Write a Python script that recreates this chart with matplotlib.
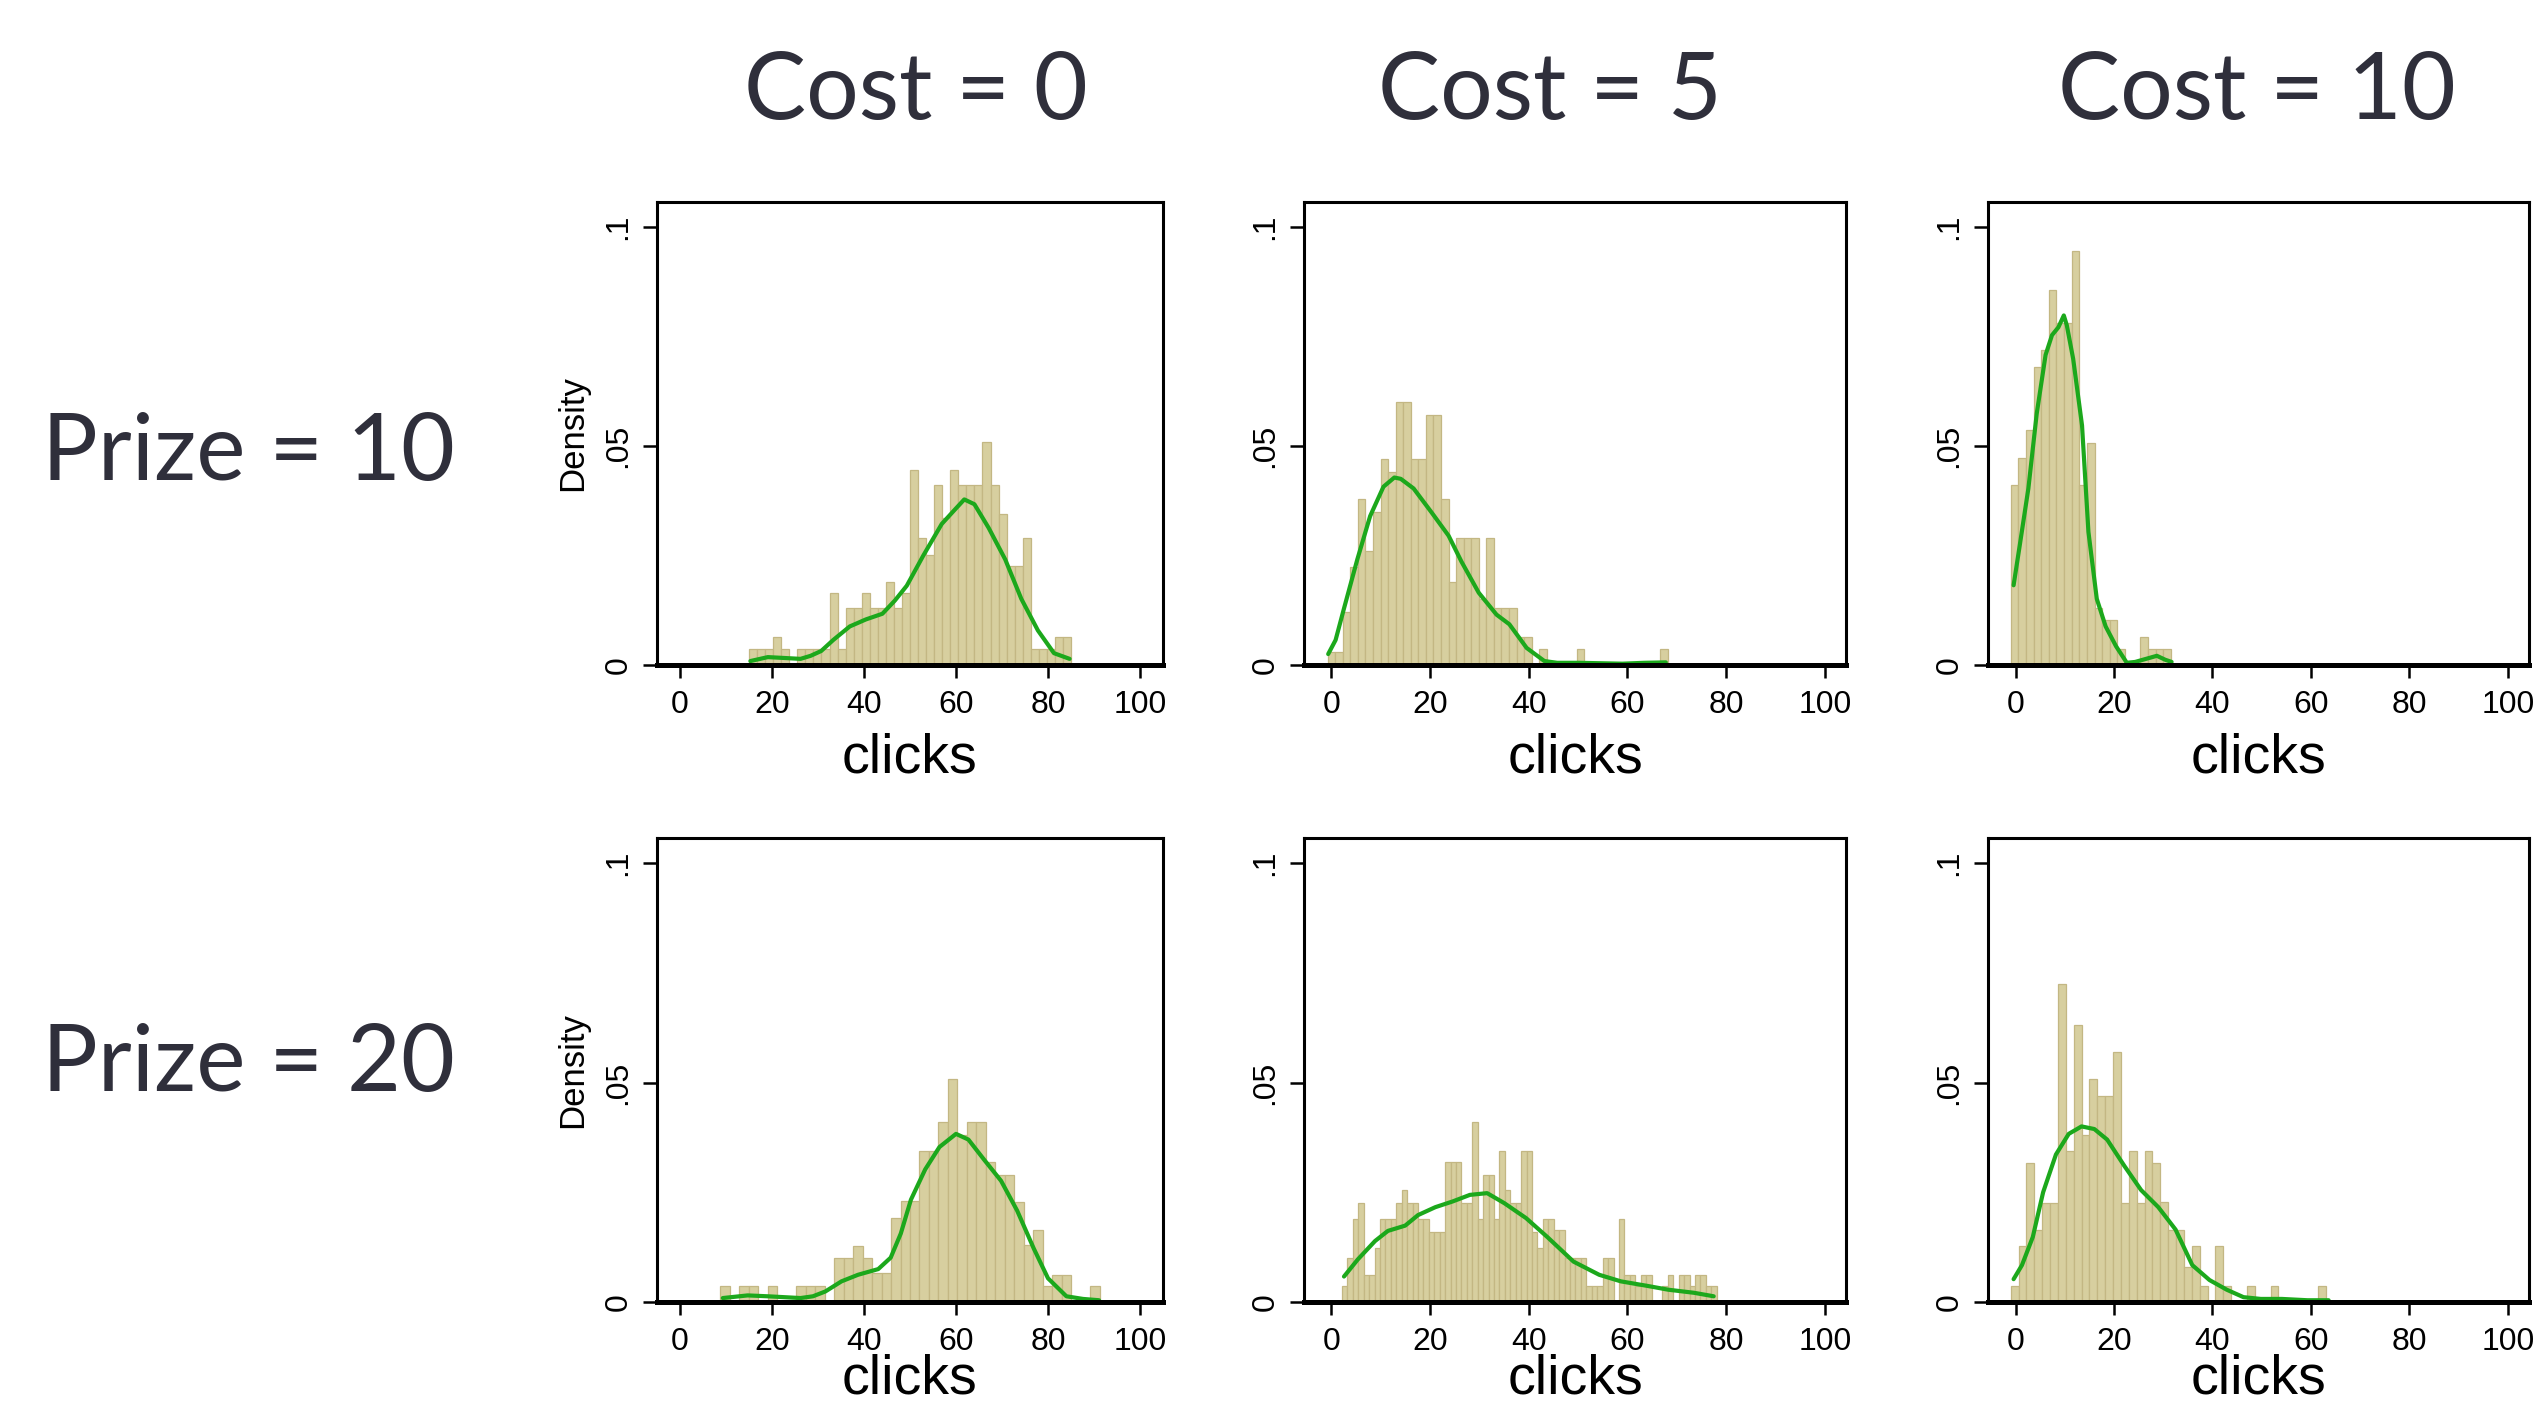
import numpy as np
import matplotlib
matplotlib.use("Agg")
import matplotlib.pyplot as plt

W, H, DPI = 2537, 1410, 100

# ---------------- labels ----------------
cost_labels = ["Cost = 0", "Cost = 5", "Cost = 10"]
prize_labels = ["Prize = 10", "Prize = 20"]
x_ticks = [0, 20, 40, 60, 80, 100]
x_tick_labels = ["0", "20", "40", "60", "80", "100"]
y_ticks = [0, 0.05, 0.1]
y_tick_labels = ["0", ".05", ".1"]
x_label = "clicks"
y_label = "Density"

# ---------------- data (density histograms + kernel density) ----------------
# Prize = 10, Cost = 0
p10c0_start, p10c0_width = 15.0, 1.75
p10c0_heights = [0.0037, 0.0037, 0.0037, 0.0064, 0.0037, 0.0, 0.0037, 0.0037, 0.0037, 0.0037,
                 0.0165, 0.0037, 0.013, 0.013, 0.0165, 0.013, 0.013, 0.019, 0.013, 0.0165,
                 0.0445, 0.029, 0.025, 0.041, 0.0335, 0.0445, 0.041, 0.041, 0.041, 0.051,
                 0.041, 0.0345, 0.0227, 0.0227, 0.029, 0.0037, 0.0037, 0.0037, 0.0064, 0.0064]
p10c0_kde_x = [15.3, 19.1, 22.7, 26.2, 28.4, 30.7, 33.3, 36.9, 40.4, 44.0, 46.7, 49.3, 52.9,
               56.9, 59.6, 61.8, 64.0, 67.1, 70.7, 74.2, 77.8, 81.3, 84.7]
p10c0_kde_y = [0.0009, 0.0018, 0.0016, 0.0014, 0.0021, 0.0032, 0.0057, 0.0088, 0.0104, 0.0117,
               0.0147, 0.0181, 0.025, 0.0322, 0.0353, 0.0378, 0.0367, 0.0313, 0.0241, 0.0151,
               0.0079, 0.0027, 0.0014]

# Prize = 10, Cost = 5
p10c5_start, p10c5_width = -0.7, 1.53
p10c5_heights = [0.003, 0.003, 0.012, 0.0224, 0.038, 0.026, 0.035, 0.047, 0.044, 0.06,
                 0.06, 0.047, 0.047, 0.057, 0.057, 0.038, 0.019, 0.029, 0.029, 0.029,
                 0.015, 0.029, 0.013, 0.013, 0.013, 0.0064, 0.0064, 0.0, 0.0037, 0.0,
                 0.0, 0.0, 0.0, 0.0037, 0.0, 0.0, 0.0, 0.0, 0.0, 0.0,
                 0.0, 0.0, 0.0, 0.0, 0.0037]
p10c5_kde_x = [-0.6, 0.9, 2.6, 5.3, 7.9, 10.6, 12.8, 14.1, 16.7, 20.3, 23.8, 26.4, 29.9, 33.5,
               36.1, 39.6, 43.2, 45.8, 50.2, 54.6, 59.0, 63.4, 67.8]
p10c5_kde_y = [0.0025, 0.0057, 0.0129, 0.0241, 0.034, 0.0407, 0.0428, 0.0425, 0.0403, 0.0349,
               0.0295, 0.0236, 0.0165, 0.0115, 0.0093, 0.0039, 0.0009, 0.0005, 0.0005, 0.0004,
               0.0003, 0.0005, 0.0006]

# Prize = 10, Cost = 10
p10c10_start, p10c10_width = -1.0, 1.55
p10c10_heights = [0.0411, 0.0473, 0.0537, 0.068, 0.072, 0.0855, 0.078, 0.078, 0.0946, 0.0411,
                  0.0506, 0.0129, 0.0102, 0.0102, 0.0037, 0.0, 0.0, 0.0064, 0.0037, 0.0037,
                  0.0037]
p10c10_kde_x = [-0.4, 0.9, 2.6, 4.3, 6.1, 7.4, 8.7, 9.8, 10.4, 11.7, 13.5, 14.8, 16.5, 18.3,
                20.4, 22.6, 24.3, 26.5, 28.7, 30.4, 31.7]
p10c10_kde_y = [0.0182, 0.0277, 0.0403, 0.0574, 0.0708, 0.0753, 0.0771, 0.0798, 0.0776, 0.0699,
                0.0547, 0.0304, 0.0151, 0.0088, 0.0043, 0.0005, 0.0007, 0.0014, 0.0021, 0.0012,
                0.0007]

# Prize = 20, Cost = 0
p20c0_start, p20c0_width = 8.7, 2.065
p20c0_heights = [0.0037, 0.0, 0.0037, 0.0037, 0.0, 0.0037, 0.0, 0.0, 0.0037, 0.0037,
                 0.0037, 0.0, 0.0101, 0.0101, 0.0128, 0.0101, 0.0067, 0.0067, 0.0192, 0.0229,
                 0.0229, 0.0345, 0.0345, 0.041, 0.0507, 0.038, 0.041, 0.041, 0.032, 0.029,
                 0.029, 0.0227, 0.013, 0.0165, 0.0037, 0.0062, 0.0062, 0.0, 0.0, 0.0037]
p20c0_kde_x = [9.3, 14.7, 19.1, 26.2, 28.9, 31.6, 35.1, 38.7, 43.1, 45.8, 48.0, 50.2, 53.3,
               56.4, 60.0, 62.7, 66.2, 69.8, 73.3, 76.9, 80.0, 84.0, 87.6, 91.1]
p20c0_kde_y = [0.0009, 0.0015, 0.0013, 0.0009, 0.0013, 0.0024, 0.0047, 0.0062, 0.0075, 0.0101,
               0.0156, 0.0233, 0.0302, 0.0353, 0.0383, 0.037, 0.0323, 0.0276, 0.0208, 0.0122,
               0.0054, 0.0013, 0.0007, 0.0004]

# Prize = 20, Cost = 5
p20c5_start, p20c5_width = 2.2, 1.1
p20c5_heights = [0.0037, 0.0101, 0.019, 0.0225, 0.0062, 0.0062, 0.0122, 0.019, 0.019, 0.019,
                 0.0225, 0.0255, 0.0225, 0.0225, 0.019, 0.019, 0.016, 0.016, 0.016, 0.0319,
                 0.0319, 0.0319, 0.0225, 0.0225, 0.041, 0.019, 0.029, 0.029, 0.019, 0.0345,
                 0.0255, 0.0225, 0.0225, 0.0345, 0.0345, 0.016, 0.0122, 0.019, 0.019, 0.0165,
                 0.0165, 0.0101, 0.0101, 0.0101, 0.0101, 0.0037, 0.0037, 0.0037, 0.0101, 0.0101,
                 0.0, 0.019, 0.0062, 0.0062, 0.0037, 0.0062, 0.0062, 0.0, 0.0, 0.0037,
                 0.0062, 0.0, 0.0062, 0.0062, 0.0037, 0.0062, 0.0062, 0.0037, 0.0037]
p20c5_kde_x = [2.6, 5.4, 8.9, 11.5, 15.0, 17.6, 21.1, 24.6, 28.1, 31.6, 35.1, 39.5, 43.8,
               49.1, 54.3, 58.7, 63.9, 68.3, 73.5, 77.5]
p20c5_kde_y = [0.0058, 0.0097, 0.0139, 0.0162, 0.0174, 0.0198, 0.0216, 0.0229, 0.0244, 0.0248,
               0.0225, 0.0191, 0.0148, 0.0092, 0.0062, 0.0047, 0.0037, 0.0028, 0.0021, 0.0013]

# Prize = 20, Cost = 10
p20c10_start, p20c10_width = -1.0, 1.6
p20c10_heights = [0.0037, 0.0127, 0.0316, 0.0165, 0.0225, 0.0225, 0.0725, 0.0345, 0.063, 0.038,
                  0.0507, 0.047, 0.047, 0.057, 0.0225, 0.0345, 0.0225, 0.0345, 0.0316, 0.0227,
                  0.0165, 0.0165, 0.008, 0.0127, 0.0037, 0.0, 0.0127, 0.0037, 0.0, 0.0,
                  0.0037, 0.0, 0.0, 0.0037, 0.0, 0.0, 0.0, 0.0, 0.0, 0.0037]
p20c10_kde_x = [-0.4, 1.3, 3.5, 5.6, 8.2, 10.8, 13.4, 16.0, 18.6, 22.1, 25.5, 29.0, 32.5,
                35.9, 39.4, 42.9, 46.3, 49.8, 54.1, 59.3, 63.6]
p20c10_kde_y = [0.0052, 0.0084, 0.0148, 0.025, 0.0336, 0.0383, 0.04, 0.0394, 0.037, 0.031,
                0.0255, 0.0216, 0.0165, 0.0084, 0.005, 0.0028, 0.0011, 0.0007, 0.0007, 0.0004,
                0.0004]

panels = [
    [(p10c0_start, p10c0_width, p10c0_heights, p10c0_kde_x, p10c0_kde_y),
     (p10c5_start, p10c5_width, p10c5_heights, p10c5_kde_x, p10c5_kde_y),
     (p10c10_start, p10c10_width, p10c10_heights, p10c10_kde_x, p10c10_kde_y)],
    [(p20c0_start, p20c0_width, p20c0_heights, p20c0_kde_x, p20c0_kde_y),
     (p20c5_start, p20c5_width, p20c5_heights, p20c5_kde_x, p20c5_kde_y),
     (p20c10_start, p20c10_width, p20c10_heights, p20c10_kde_x, p20c10_kde_y)],
]

# ---------------- layout (pixel boxes of plot frames) ----------------
col_px = [(657, 1163), (1304, 1846), (1988, 2529)]
row_px = [(202, 665), (838, 1302)]
col_xlim = [(-5.0, 105.0), (-5.5, 104.3), (-5.6, 104.3)]
row_xlabel_y = [-0.145, -0.11]
ylim = (0, 0.1057)

BAR_FACE = "#d7cf9f"
BAR_EDGE = "#c3b783"
KDE_COL = "#1ca81c"
TITLE_COL = "#2f2f3b"

plt.rcParams["font.family"] = ["Liberation Sans", "DejaVu Sans"]

fig = plt.figure(figsize=(W / DPI, H / DPI), dpi=DPI)
fig.patch.set_facecolor("white")

for r, (top, bottom) in enumerate(row_px):
    for c, (left, right) in enumerate(col_px):
        ax = fig.add_axes([left / W, 1 - bottom / H, (right - left) / W, (bottom - top) / H])
        start, width, heights, kx, ky = panels[r][c]
        n = len(heights)
        edges = start + width * np.arange(n)
        ax.bar(edges, heights, width=width, align="edge", color=BAR_FACE,
               edgecolor=BAR_EDGE, linewidth=0.9, zorder=1)
        ax.plot(kx, ky, color=KDE_COL, lw=3.0, zorder=3, solid_capstyle="round",
                solid_joinstyle="round")
        ax.set_xlim(*col_xlim[c])
        ax.set_ylim(*ylim)
        ax.set_xticks(x_ticks)
        ax.set_xticklabels(x_tick_labels)
        ax.set_yticks(y_ticks)
        ax.set_yticklabels(y_tick_labels, rotation=90, va="center")
        ax.tick_params(axis="both", direction="out", colors="black", labelsize=23,
                       width=1.8)
        ax.tick_params(axis="x", length=9, pad=9)
        ax.tick_params(axis="y", length=10, pad=7)
        for s in ax.spines.values():
            s.set_linewidth(2.2)
            s.set_color("black")
            s.set_zorder(4)
        ax.spines["bottom"].set_linewidth(3.6)
        ax.set_xlabel(x_label, fontsize=40)
        ax.xaxis.set_label_coords(0.5, row_xlabel_y[r])
        ax.xaxis.label.set_va("top")
        if c == 0:
            ax.set_ylabel(y_label, fontsize=25)
            ax.yaxis.set_label_coords(-0.135, 0.5)

# column / row headings
title_font = ["Lato", "DejaVu Sans"]
cost_x = [916, 1550, 2257]
for lab, xc in zip(cost_labels, cost_x):
    fig.text(xc / W, 1 - 119 / H, lab, ha="center", va="baseline", fontsize=67,
             color=TITLE_COL, family=title_font)
prize_base = [480, 1091]
for lab, yb in zip(prize_labels, prize_base):
    fig.text(42 / W, 1 - yb / H, lab, ha="left", va="baseline", fontsize=67,
             color=TITLE_COL, family=title_font)

fig.savefig("out.png", dpi=DPI, facecolor="white")
